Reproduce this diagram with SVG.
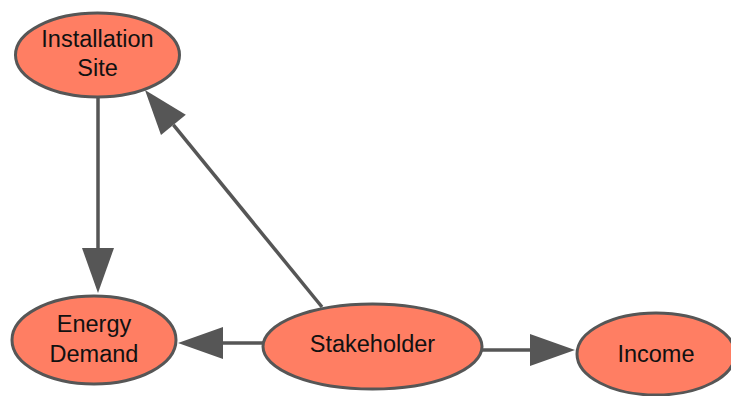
<svg xmlns="http://www.w3.org/2000/svg" width="731" height="396" viewBox="0 0 731 396">
<style>
.node ellipse{fill:#FF7E63;stroke:#565656;stroke-width:3}
.node text{font-family:"Liberation Sans",Arial,sans-serif;font-size:23.5px;fill:#111;text-anchor:middle}
.edge{stroke:#565656;stroke-width:3.5;fill:none;marker-end:url(#ah)}
</style>
<defs>
<marker id="ah" markerUnits="userSpaceOnUse" markerWidth="50" markerHeight="40" refX="0" refY="0" viewBox="0 -20 50 40" orient="auto" overflow="visible">
<path d="M0,-16 L45,0 L0,16 Z" fill="#565656"/>
</marker>
</defs>
<rect width="731" height="396" fill="#fff"/>
<g id="connectors">
<line class="edge" x1="98" y1="97" x2="98" y2="248"/>
<line class="edge" x1="322" y1="307" x2="173.4" y2="124.9"/>
<line class="edge" x1="263" y1="343" x2="223" y2="343"/>
<line class="edge" x1="482" y1="350" x2="530" y2="350"/>
</g>
<g id="installation-site" class="node">
<ellipse cx="97.5" cy="55" rx="82" ry="42"/>
<text x="97.5" y="47">Installation</text>
<text x="97.5" y="76">Site</text>
</g>
<g id="energy-demand" class="node">
<ellipse cx="94" cy="340" rx="82" ry="44"/>
<text x="94" y="332">Energy</text>
<text x="94" y="362">Demand</text>
</g>
<g id="stakeholder" class="node">
<ellipse cx="372.5" cy="346.5" rx="109.5" ry="42.5"/>
<text x="372.5" y="352">Stakeholder</text>
</g>
<g id="income" class="node">
<ellipse cx="656" cy="354" rx="79" ry="41"/>
<text x="656" y="362">Income</text>
</g>
</svg>
